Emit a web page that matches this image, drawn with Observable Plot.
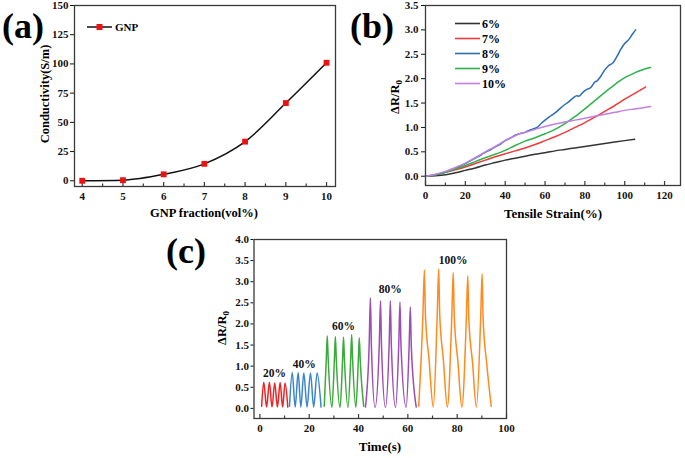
<!DOCTYPE html>
<html><head><meta charset="utf-8">
<script src="https://cdn.jsdelivr.net/npm/d3@7"></script>
<script src="https://cdn.jsdelivr.net/npm/@observablehq/plot@0.6"></script>
<style>
body{margin:0;background:#fff;}
#root{position:relative;width:685px;height:458px;overflow:hidden;background:#fff;}
.panel{position:absolute;}
#overlay{position:absolute;left:0;top:0;pointer-events:none;font-family:"Liberation Serif","Times New Roman",serif;font-weight:bold;}
</style></head><body>
<div id="root">
<div id="pa" class="panel" style="left:0;top:0"></div>
<div id="pb" class="panel" style="left:345px;top:0"></div>
<div id="pc" class="panel" style="left:180px;top:225px"></div>
<svg id="overlay" width="685" height="458">
  <text x="2" y="38" font-size="36">(a)</text>
  <text x="350" y="38" font-size="36">(b)</text>
  <text x="166" y="263" font-size="36">(c)</text>
  <text transform="translate(45,94) rotate(-90)" text-anchor="middle" dy="0.35em" font-size="12.5">Conductivity(S/m)</text>
  <text x="204" y="217" text-anchor="middle" font-size="12.5">GNP fraction(vol%)</text>
  <text transform="translate(395,97) rotate(-90)" text-anchor="middle" dy="0.35em" font-size="12.5">ΔR/R<tspan dy="3" font-size="9">0</tspan></text>
  <text x="553" y="218" text-anchor="middle" font-size="13">Tensile Strain(%)</text>
  <text transform="translate(222,328) rotate(-90)" text-anchor="middle" dy="0.35em" font-size="12.5">ΔR/R<tspan dy="3" font-size="9">0</tspan></text>
  <text x="380" y="451" text-anchor="middle" font-size="13">Time(s)</text>
  <g id="legA"></g>
  <g id="legB"></g>
</svg>
</div>
<script>
// ---------- Panel (a) data ----------
const gnpFraction = [4, 5, 6, 7, 8, 9, 10];
const conductivity = [0, 0.5, 5.5, 14.5, 33.5, 66.5, 101];

// ---------- Panel (b) data ----------
const seriesNamesB = ["6%", "7%", "8%", "9%", "10%"];
const colorsB = ["#333333", "#f23a3a", "#2a6db5", "#2fb24c", "#c27fe0"];
const strain6 = [0,5,10,15,20,25,30,35,40,45,50,55,60,65,70,75,80,85,90,95,100,105];
const dr6 = [0,0.01,0.03,0.07,0.12,0.17,0.23,0.28,0.33,0.37,0.41,0.45,0.48,0.52,0.55,0.58,0.61,0.64,0.67,0.7,0.73,0.76];
const strain7 = [0,5,10,15,20,25,30,35,40,45,50,55,60,65,70,75,80,85,90,95,100,105,110.5];
const dr7 = [0,0.03,0.08,0.13,0.19,0.26,0.33,0.4,0.46,0.52,0.58,0.65,0.73,0.81,0.9,1.0,1.1,1.21,1.33,1.45,1.58,1.7,1.83];
const strain8 = [0,5,10,15,20,25,28,30,33,35,38,40,43,45,48,50,52,54,56,58,60,63,66,69,72,74,76,77,79,81,83,85,86,88,90,92,94,96,98,100,102,104,105.5];
const dr8 = [0,0.03,0.08,0.16,0.26,0.37,0.44,0.49,0.55,0.6,0.67,0.73,0.79,0.84,0.88,0.9,0.94,0.97,1.0,1.08,1.15,1.24,1.33,1.44,1.53,1.6,1.65,1.64,1.72,1.78,1.82,1.93,1.95,2.05,2.18,2.27,2.32,2.45,2.6,2.72,2.8,2.92,3.0];
const strain9 = [0,5,10,15,20,25,30,35,40,45,50,55,60,65,70,75,80,85,90,95,100,105,110,113];
const dr9 = [0,0.03,0.08,0.15,0.22,0.3,0.38,0.45,0.53,0.63,0.72,0.79,0.87,0.96,1.08,1.22,1.38,1.55,1.72,1.88,2.02,2.12,2.2,2.23];
const strain10 = [0,5,10,15,20,25,30,35,40,45,48,50,55,60,65,70,75,80,85,90,95,100,105,110,113];
const dr10 = [0,0.04,0.1,0.18,0.27,0.38,0.5,0.61,0.73,0.83,0.88,0.9,0.96,1.02,1.07,1.11,1.15,1.19,1.23,1.27,1.31,1.35,1.38,1.41,1.43];

// ---------- Panel (c) data ----------
const groupNamesC = ["20%", "40%", "60%", "80%", "100%"];
const colorsC = ["#ee2222", "#3a85cc", "#3aaa3a", "#9b4fb0", "#ff8a1e"];
const t20 = [0.7,1.55,2.7,3.85,4.9,6.0,7.1,8.2,9.2,10.2,11.3];
const v20 = [0.05,0.62,0.03,0.62,0.03,0.60,0.03,0.61,0.03,0.60,0.03];
const t40 = [12.0,13.1,14.3,15.5,16.6,17.8,19.1,20.5,21.8,23.2,24.8];
const v40 = [0.05,0.85,0.03,0.85,0.03,0.84,0.03,0.84,0.03,0.84,0.03];
const t60 = [26.1,26.9,27.3,27.7,29.2,30.2,30.6,31.0,32.5,33.5,33.9,34.3,35.7,36.8,37.2,37.6,38.9,39.9,40.3,40.7,42.1];
const v60 = [0.05,1.15,1.72,1.15,0.02,1.15,1.70,1.12,0.02,1.12,1.69,1.12,0.02,1.15,1.75,1.15,0.02,1.12,1.67,1.12,0.05];
const t80 = [42.8,44.3,44.8,45.2,46.7,48.4,48.9,49.3,50.9,52.4,52.9,53.3,55.0,56.3,56.8,57.2,59.3,60.5,61.0,61.4,63.4];
const v80 = [0.03,1.5,2.62,1.5,0.02,1.5,2.55,1.5,0.02,1.5,2.55,1.5,0.02,1.5,2.52,1.5,0.02,1.45,2.40,1.45,0.03];
const t100 = [64.4,66.1,66.7,67.1,68.6,70.3,71.9,72.5,72.9,74.4,76.0,77.8,78.4,78.8,80.3,81.9,83.7,84.3,84.7,86.2,87.8,89.5,90.1,90.5,92.0,93.8];
const v100 = [0.05,2.2,3.28,2.25,1.15,0.03,2.2,3.30,2.25,1.15,0.03,2.15,3.22,2.2,1.1,0.03,2.1,3.14,2.15,1.1,0.03,2.1,3.19,2.15,1.05,0.05];

// ---------- Tick values ----------
const ticksAX = [4,5,6,7,8,9,10];
const ticksAY = [0,25,50,75,100,125,150];
const ticksBX = [0,20,40,60,80,100,120];
const ticksBY = [0,0.5,1,1.5,2,2.5,3,3.5];
const ticksCX = [0,20,40,60,80,100];
const ticksCY = [0,0.5,1,1.5,2,2.5,3,3.5,4];

const FONT = '"Liberation Serif","Times New Roman",serif';
const baseStyle = {fontFamily: FONT, fontWeight: "bold", fontSize: "11px", color: "#111", background: "transparent", overflow: "visible"};
const frameColor = "#3a3a3a";

function innerTicks(majors, step, frameH) {
  const minors = [];
  for (let i = 0; i < majors.length - 1; i++) minors.push(majors[i] + step);
  return [
    Plot.tickX(majors, {x: d => d, insetTop: frameH - 4, stroke: frameColor, strokeWidth: 1.2}),
    Plot.tickX(minors, {x: d => d, insetTop: frameH - 2.5, stroke: frameColor, strokeWidth: 1.2})
  ];
}

// ---------- Panel (a) ----------
const dataA = gnpFraction.map((f, i) => ({f, c: conductivity[i]}));
const hA = 230, mtA = 5, mbA = 44;
const plotA = Plot.plot({
  width: 345, height: hA, marginLeft: 74, marginRight: 10, marginTop: mtA, marginBottom: mbA,
  style: baseStyle,
  x: {domain: [3.81, 10.22]},
  y: {domain: [-4.9, 150]},
  marks: [
    Plot.axisY({ticks: ticksAY, tickFormat: d3.format("d"), tickSize: 4, tickPadding: 2, label: null}),
    Plot.axisX({ticks: ticksAX, tickFormat: d3.format("d"), tickSize: 0, tickPadding: 6, label: null}),
    ...innerTicks(ticksAX, 0.5, hA - mtA - mbA),
    Plot.line(dataA, {x: "f", y: "c", curve: "monotone-x", stroke: "#111", strokeWidth: 1.5}),
    Plot.dot(dataA, {x: "f", y: "c", symbol: "square", r: 3.3, fill: "#ee1111", stroke: "none"}),
    Plot.frame({stroke: frameColor, strokeWidth: 1.3})
  ]
});
document.getElementById("pa").appendChild(plotA);

// ---------- Panel (b) ----------
const strainsB = [strain6, strain7, strain8, strain9, strain10];
const drsB = [dr6, dr7, dr8, dr9, dr10];
const dataB = [];
seriesNamesB.forEach((s, k) => strainsB[k].forEach((x, i) => dataB.push({s, x, y: drsB[k][i]})));
const hB = 230, mtB = 5, mbB = 45;
const plotB = Plot.plot({
  width: 340, height: hB, marginLeft: 80, marginRight: 5, marginTop: mtB, marginBottom: mbB,
  style: baseStyle,
  x: {domain: [0, 128]},
  y: {domain: [-0.19, 3.5]},
  color: {domain: seriesNamesB, range: colorsB},
  marks: [
    Plot.axisY({ticks: ticksBY, tickFormat: d3.format(".1f"), tickSize: 4, tickPadding: 3, label: null}),
    Plot.axisX({ticks: ticksBX, tickFormat: d3.format("d"), tickSize: 0, tickPadding: 6, label: null}),
    ...innerTicks(ticksBX, 10, hB - mtB - mbB),
    Plot.line(dataB, {x: "x", y: "y", z: "s", stroke: "s", curve: "monotone-x", strokeWidth: 1.5}),
    Plot.frame({stroke: frameColor, strokeWidth: 1.3})
  ]
});
document.getElementById("pb").appendChild(plotB);

// ---------- Panel (c) ----------
const timesC = [t20, t40, t60, t80, t100];
const valsC = [v20, v40, v60, v80, v100];
const dataC = [];
groupNamesC.forEach((g, k) => timesC[k].forEach((t, i) => dataC.push({g, t, v: valsC[k][i]})));
const labelsC = groupNamesC.map((g, k) => {
  const pts = valsC[k].map((v, i) => ({v, t: timesC[k][i]}));
  const mx = d3.max(pts, d => d.v);
  const top = pts.filter(d => d.v > mx * 0.85);
  return {g, t: d3.mean(top, d => d.t), v: mx + 0.2};
});
const hC = 233, mtC = 14, mbC = 40;
const plotC = Plot.plot({
  width: 340, height: hC, marginLeft: 73.5, marginRight: 14, marginTop: mtC, marginBottom: mbC,
  style: baseStyle,
  x: {domain: [-2.4, 100]},
  y: {domain: [-0.24, 4.0]},
  color: {domain: groupNamesC, range: colorsC},
  marks: [
    Plot.axisY({ticks: ticksCY, tickFormat: d3.format(".1f"), tickSize: 3, tickPadding: 2, label: null}),
    Plot.axisX({ticks: ticksCX, tickFormat: d3.format("d"), tickSize: 0, tickPadding: 6, label: null}),
    ...innerTicks(ticksCX, 10, hC - mtC - mbC),
    Plot.line(dataC, {x: "t", y: "v", z: "g", stroke: "g", curve: "monotone-x", strokeWidth: 1.5}),
    Plot.text(labelsC, {x: "t", y: "v", text: "g", fontSize: 11.5, fontWeight: "bold", fill: "#111"}),
    Plot.frame({stroke: frameColor, strokeWidth: 1.3})
  ]
});
document.getElementById("pc").appendChild(plotC);

// ---------- Legends (overlay) ----------
const NS = "http://www.w3.org/2000/svg";
function el(tag, attrs, parent) {
  const e = document.createElementNS(NS, tag);
  for (const k in attrs) e.setAttribute(k, attrs[k]);
  parent.appendChild(e);
  return e;
}
const legA = document.getElementById("legA");
el("line", {x1: 87, x2: 112, y1: 27, y2: 27, stroke: "#111", "stroke-width": 1.5}, legA);
el("rect", {x: 96.5, y: 24, width: 6, height: 6, fill: "#ee1111"}, legA);
el("text", {x: 115, y: 31, "font-size": 11}, legA).textContent = "GNP";

const legB = document.getElementById("legB");
seriesNamesB.forEach((s, k) => {
  const y = 23.5 + k * 15;
  el("line", {x1: 455, x2: 480, y1: y, y2: y, stroke: colorsB[k], "stroke-width": 1.6}, legB);
  el("text", {x: 482, y: y + 4.2, "font-size": 12}, legB).textContent = s;
});
</script>
</body></html>
